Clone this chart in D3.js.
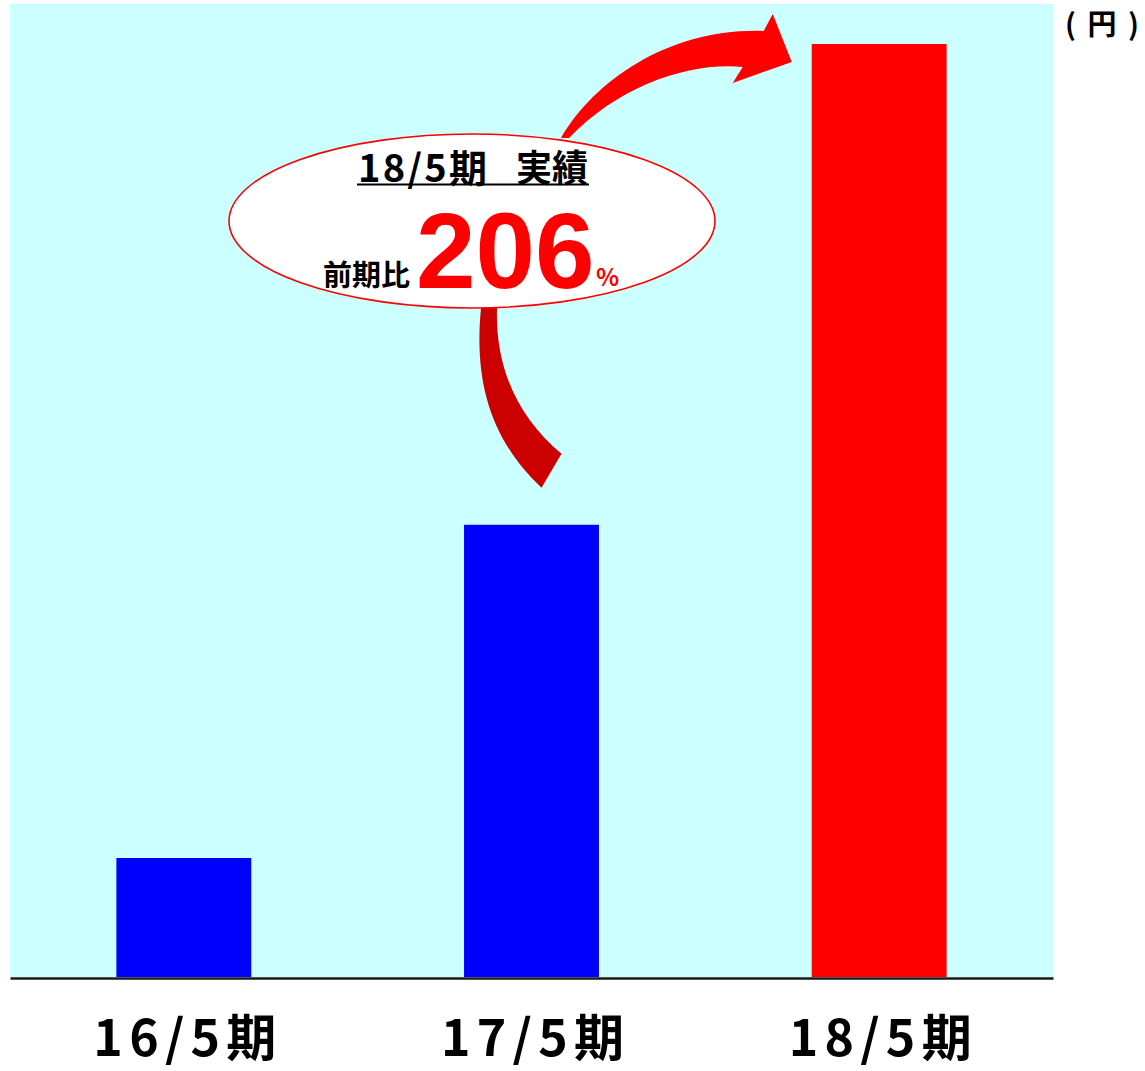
<!DOCTYPE html>
<html lang="ja">
<head>
<meta charset="utf-8">
<script src="https://cdn.jsdelivr.net/npm/d3@7"></script>
<style>
  html, body { margin: 0; padding: 0; background: #ffffff; }
  svg { display: block; }
  text { font-family: "Noto Sans CJK JP", "Noto Sans", sans-serif; font-weight: 700; }
</style>
</head>
<body>
<svg id="chart" width="1145" height="1071"></svg>
<script>
// Fiscal periods and dividend per share (yen)
const categories = ["16/5期", "17/5期", "18/5期"];
const values = [25, 95, 196];
const barColors = ["#0000ff", "#0000ff", "#ff0000"];

// Callout text
const calloutTitle = ["18/5期", "実績"];
const calloutLabel = "前期比";
const calloutValue = "206";
const calloutUnit = "%";
const unitLabel = "(円)";

const svg = d3.select("#chart");
const plot = { left: 10, right: 1053, top: 4, bottom: 977 };

const x = d3.scaleBand()
  .domain(categories)
  .range([plot.left, plot.right])
  .paddingInner(0.612)
  .paddingOuter(0.306);

const y = d3.scaleLinear()
  .domain([0, 204.4])
  .range([plot.bottom, plot.top]);

// Plot background
svg.append("rect")
  .attr("x", plot.left).attr("y", plot.top)
  .attr("width", plot.right - plot.left)
  .attr("height", plot.bottom - plot.top)
  .attr("fill", "#ccffff");

// Bars
svg.selectAll("rect.bar")
  .data(values)
  .join("rect")
  .attr("class", "bar")
  .attr("x", (d, i) => x(categories[i]))
  .attr("y", d => y(d))
  .attr("width", x.bandwidth())
  .attr("height", d => y(0) - y(d))
  .attr("fill", (d, i) => barColors[i]);

// Callout bubble geometry
const bubble = { cx: 472, cy: 221, rx: 243, ry: 87 };

// Curved arrow from the bubble down toward the previous period's bar
const prevX = x(categories[1]) + x.bandwidth() / 2;
const prevTop = y(values[1]);
const tail = d3.path();
tail.moveTo(bubble.cx + 9, bubble.cy + 87);
tail.bezierCurveTo(bubble.cx + 2, bubble.cy + 159, prevX - 42, prevTop - 86, prevX + 10, prevTop - 37);
tail.lineTo(prevX + 30, prevTop - 71);
tail.bezierCurveTo(prevX - 12, prevTop - 106, bubble.cx + 23, bubble.cy + 149, bubble.cx + 25, bubble.cy + 87);
tail.closePath();
svg.append("path").attr("d", tail.toString()).attr("fill", "#cc0000");

// Curved arrow from the bubble up to the latest period's bar
const curX = x(categories[2]);
const curTop = y(values[2]);
const head = d3.path();
head.moveTo(bubble.cx + 89, bubble.cy - 83);
head.bezierCurveTo(bubble.cx + 123, bubble.cy - 141, curX - 142, curTop - 16, curX - 48, curTop - 13);
head.lineTo(curX - 39, curTop - 30);
head.lineTo(curX - 20, curTop + 18);
head.lineTo(curX - 79, curTop + 39);
head.lineTo(curX - 69, curTop + 23);
head.bezierCurveTo(curX - 122, curTop + 18, bubble.cx + 148, bubble.cy - 136, bubble.cx + 97, bubble.cy - 83);
head.closePath();
svg.append("path").attr("d", head.toString()).attr("fill", "#ff0000");

// Bubble
svg.append("ellipse")
  .attr("cx", bubble.cx).attr("cy", bubble.cy)
  .attr("rx", bubble.rx).attr("ry", bubble.ry)
  .attr("fill", "#ffffff")
  .attr("stroke", "#ff0000")
  .attr("stroke-width", 1.6);

// Bubble title, underlined
svg.append("text")
  .attr("x", 358).attr("y", 182)
  .attr("font-size", 38)
  .attr("textLength", 129)
  .attr("lengthAdjust", "spacing")
  .attr("fill", "#000000")
  .text(calloutTitle[0]);
svg.append("text")
  .attr("x", 516).attr("y", 182)
  .attr("font-size", 37)
  .attr("textLength", 72)
  .attr("lengthAdjust", "spacingAndGlyphs")
  .attr("fill", "#000000")
  .text(calloutTitle[1]);
svg.append("line")
  .attr("x1", 357).attr("x2", 589)
  .attr("y1", 184.5).attr("y2", 184.5)
  .attr("stroke", "#000000")
  .attr("stroke-width", 2);

svg.append("text")
  .attr("x", 323).attr("y", 286)
  .attr("font-size", 29)
  .attr("fill", "#000000")
  .text(calloutLabel);

svg.append("text")
  .attr("x", 416).attr("y", 288)
  .attr("font-size", 107)
  .attr("fill", "#ff0000")
  .style("font-family", "'Liberation Sans', Arial, sans-serif")
  .text(calloutValue);

svg.append("text")
  .attr("x", 596).attr("y", 286)
  .attr("font-size", 24)
  .attr("font-weight", 400)
  .attr("fill", "#ff0000")
  .text(calloutUnit);

// Unit label
svg.append("text")
  .attr("x", 1065)
  .attr("y", 35)
  .attr("font-size", 29)
  .attr("textLength", 74)
  .attr("lengthAdjust", "spacing")
  .attr("fill", "#000000")
  .text(unitLabel);

// Category axis
const axis = svg.append("g")
  .attr("transform", `translate(0,${plot.bottom + 1})`)
  .call(d3.axisBottom(x).tickSize(0).tickSizeOuter(0));
axis.select(".domain")
  .attr("stroke", "#1a1a1a")
  .attr("stroke-width", 2.5);
axis.selectAll(".tick text")
  .attr("x", 1)
  .attr("y", 78)
  .attr("dy", 0)
  .attr("font-size", 50)
  .attr("textLength", 183)
  .attr("lengthAdjust", "spacing")
  .attr("font-family", "'Noto Sans CJK JP', sans-serif")
  .attr("font-weight", 700)
  .attr("fill", "#000000");
</script>
</body>
</html>
